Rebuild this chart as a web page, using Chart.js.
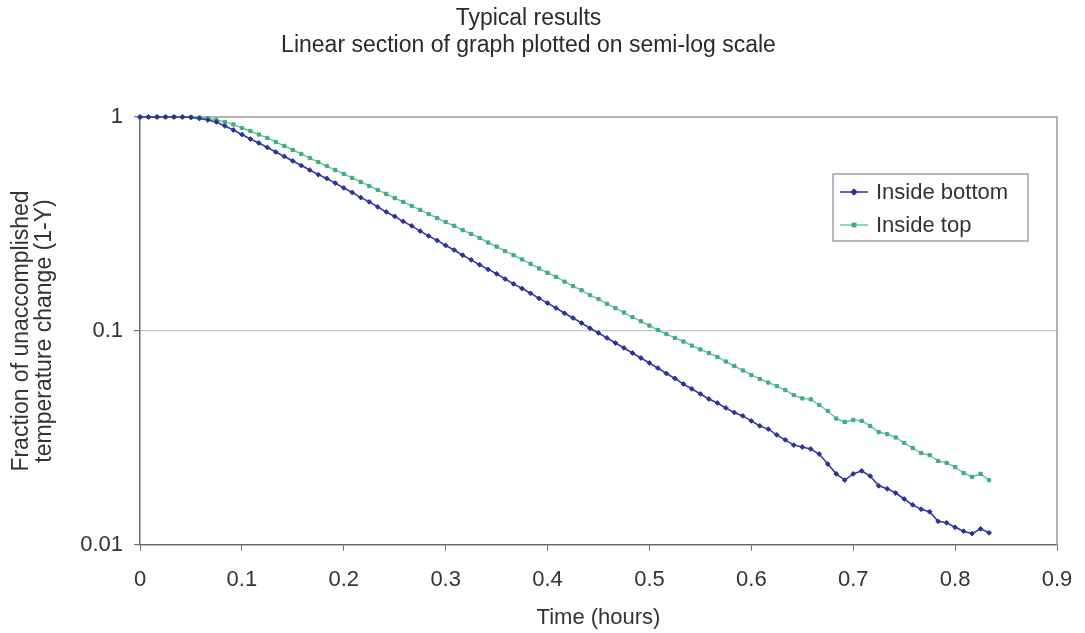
<!DOCTYPE html>
<html lang="en">
	<head>
		<meta charset="UTF-8">
		<script src="https://cdn.jsdelivr.net/npm/chart.js"></script>
		<title>Semi-log cooling curves</title>
		<style>
			html, body { margin: 0; padding: 0; background: #fff; }
			canvas { display: block; }
		</style>
	</head>
	<body>
		<canvas id="coolingChart" width="1085" height="633"></canvas>
		<script>
			// sample times, minutes (one reading every half minute)
			var timeMin = [
				0, 0.5, 1, 1.5, 2, 2.5, 3, 3.5, 4, 4.5,
				5, 5.5, 6, 6.5, 7, 7.5, 8, 8.5, 9, 9.5,
				10, 10.5, 11, 11.5, 12, 12.5, 13, 13.5, 14, 14.5,
				15, 15.5, 16, 16.5, 17, 17.5, 18, 18.5, 19, 19.5,
				20, 20.5, 21, 21.5, 22, 22.5, 23, 23.5, 24, 24.5,
				25, 25.5, 26, 26.5, 27, 27.5, 28, 28.5, 29, 29.5,
				30, 30.5, 31, 31.5, 32, 32.5, 33, 33.5, 34, 34.5,
				35, 35.5, 36, 36.5, 37, 37.5, 38, 38.5, 39, 39.5,
				40, 40.5, 41, 41.5, 42, 42.5, 43, 43.5, 44, 44.5,
				45, 45.5, 46, 46.5, 47, 47.5, 48, 48.5, 49, 49.5,
				50
			];

			// fraction of unaccomplished temperature change (1-Y)
			var insideBottom = [
				1, 1, 1, 1, 1, 1, 0.995, 0.984, 0.968, 0.948,
				0.908, 0.869, 0.828, 0.789, 0.756, 0.720, 0.686, 0.654, 0.623, 0.593,
				0.565, 0.538, 0.516, 0.491, 0.466, 0.444, 0.420, 0.401, 0.380, 0.360,
				0.343, 0.325, 0.310, 0.293, 0.278, 0.265, 0.251, 0.239, 0.226, 0.215,
				0.204, 0.194, 0.185, 0.175, 0.166, 0.158, 0.150, 0.142, 0.135, 0.128,
				0.121, 0.115, 0.109, 0.103, 0.0979, 0.0928, 0.0879, 0.0833, 0.0789, 0.0748,
				0.0709, 0.0671, 0.0633, 0.0600, 0.0565, 0.0536, 0.0508, 0.0481, 0.0461, 0.0437,
				0.0416, 0.0401, 0.0380, 0.0360, 0.0348, 0.0327, 0.0310, 0.0293, 0.0287, 0.0281,
				0.0266, 0.0239, 0.0215, 0.0201, 0.0215, 0.0222, 0.0210, 0.0189, 0.0183, 0.0175,
				0.0164, 0.0154, 0.0147, 0.0143, 0.0129, 0.0127, 0.0121, 0.0116, 0.0113, 0.0119,
				0.0114
			];
			var insideTop = [
				1, 1, 1, 1, 1, 1, 1, 0.995, 0.984, 0.968,
				0.948, 0.923, 0.888, 0.860, 0.828, 0.798, 0.764, 0.732, 0.701, 0.672,
				0.643, 0.616, 0.590, 0.565, 0.542, 0.519, 0.497, 0.476, 0.456, 0.437,
				0.418, 0.401, 0.384, 0.368, 0.352, 0.337, 0.323, 0.310, 0.296, 0.284,
				0.272, 0.259, 0.248, 0.236, 0.226, 0.216, 0.206, 0.196, 0.187, 0.179,
				0.170, 0.162, 0.155, 0.147, 0.141, 0.134, 0.128, 0.122, 0.116, 0.111,
				0.106, 0.101, 0.0968, 0.0928, 0.0893, 0.0855, 0.0820, 0.0789, 0.0756, 0.0720,
				0.0686, 0.0654, 0.0623, 0.0597, 0.0574, 0.0553, 0.0530, 0.0502, 0.0484, 0.0479,
				0.0451, 0.0423, 0.0390, 0.0376, 0.0384, 0.0380, 0.0360, 0.0337, 0.0330, 0.0318,
				0.0300, 0.0284, 0.0269, 0.0263, 0.0247, 0.0242, 0.0231, 0.0217, 0.0208, 0.0215,
				0.0201
			];

			var yTicks = [0.01, 0.1, 1];
			var xTickStep = 0.1;
			var xMax = 0.9;

			function toPoints(values) {
				return values.map(function(v, i) {
					return { x: timeMin[i] / 60, y: v };
				});
			}

			Chart.defaults.font.family = "'Liberation Sans', Arial, sans-serif";
			Chart.defaults.color = '#333';

			// right and top edges of the plot box
			var frame = {
				id: 'frame',
				beforeDatasetsDraw: function(chart) {
					var a = chart.chartArea, ctx = chart.ctx;
					ctx.save();
					ctx.strokeStyle = '#9a9a9a';
					ctx.lineWidth = 1.5;
					ctx.beginPath();
					ctx.moveTo(a.left, a.top);
					ctx.lineTo(a.right, a.top);
					ctx.lineTo(a.right, a.bottom);
					ctx.stroke();
					ctx.restore();
				}
			};

			// boxed legend inside the plot, upper right
			var boxLegend = {
				id: 'boxLegend',
				afterDraw: function(chart) {
					var ctx = chart.ctx;
					var bx = 833, by = 174, bw = 195, bh = 67;
					ctx.save();
					ctx.fillStyle = '#fff';
					ctx.fillRect(bx, by, bw, bh);
					ctx.strokeStyle = '#8c8c8c';
					ctx.lineWidth = 1.2;
					ctx.strokeRect(bx, by, bw, bh);
					chart.data.datasets.forEach(function(ds, k) {
						var y = by + 18 + k * 33;
						ctx.strokeStyle = ds.borderColor;
						ctx.lineWidth = ds.borderWidth;
						ctx.beginPath();
						ctx.moveTo(bx + 7, y);
						ctx.lineTo(bx + 35, y);
						ctx.stroke();
						Chart.helpers.drawPoint(ctx, {
							pointStyle: ds.pointStyle,
							radius: ds.pointRadius,
							borderWidth: 1,
							rotation: 0
						}, bx + 21, y);
						ctx.fillStyle = ds.pointBackgroundColor;
						ctx.strokeStyle = ds.pointBorderColor;
						ctx.fill();
						ctx.stroke();
						ctx.fillStyle = '#333';
						ctx.font = "22px 'Liberation Sans', Arial, sans-serif";
						ctx.textBaseline = 'middle';
						ctx.textAlign = 'left';
						ctx.fillText(ds.label, bx + 43, y + 1);
					});
					ctx.restore();
				}
			};

			var ctx = document.getElementById('coolingChart').getContext('2d');
			var coolingChart = new Chart(ctx, {
				type: 'line',
				data: {
					datasets: [{
						label: 'Inside bottom',
						data: toPoints(insideBottom),
						borderColor: '#363ba3',
						borderWidth: 1.6,
						pointStyle: 'rectRot',
						pointRadius: 2.4,
						pointBackgroundColor: '#2d3296',
						pointBorderColor: '#2d3296',
						pointBorderWidth: 1,
						clip: false,
						tension: 0
					}, {
						label: 'Inside top',
						data: toPoints(insideTop),
						borderColor: '#62c49c',
						borderWidth: 1.4,
						pointStyle: 'rect',
						pointRadius: 2.3,
						pointBackgroundColor: '#40ad80',
						pointBorderColor: '#40ad80',
						pointBorderWidth: 1,
						clip: false,
						tension: 0
					}]
				},
				options: {
					responsive: false,
					animation: false,
					devicePixelRatio: 1,
					layout: { padding: { left: 0, right: 28, top: 0, bottom: 0 } },
					plugins: {
						legend: { display: false },
						tooltip: { enabled: false },
						title: {
							display: true,
							text: ['Typical results', 'Linear section of graph plotted on semi-log scale'],
							color: '#2a2a2a',
							font: { size: 23, weight: 'normal', lineHeight: 1.18 },
							padding: { top: 5, bottom: 57.7 }
						}
					},
					scales: {
						x: {
							type: 'linear',
							min: 0,
							max: xMax,
							afterFit: function(scale) {
								scale.height = 88;
								scale.paddingLeft = 0;
								scale.paddingRight = 0;
							},
							ticks: {
								stepSize: xTickStep,
								padding: 16,
								color: '#333',
								font: { size: 22 },
								maxRotation: 0,
								callback: function(v) { return String(Number(v.toFixed(1))); }
							},
							grid: {
								drawOnChartArea: false,
								drawTicks: true,
								tickLength: 6,
								tickColor: '#777'
							},
							border: { color: '#6a6a6a', width: 1.5 },
							title: {
								display: true,
								text: 'Time (hours)',
								color: '#333',
								font: { size: 22, lineHeight: 1.2 },
								padding: { top: 0, bottom: 2 }
							}
						},
						y: {
							type: 'logarithmic',
							min: 0.01,
							max: 1,
							afterFit: function(scale) { scale.width = 140; },
							afterBuildTicks: function(scale) {
								scale.ticks = yTicks.map(function(v) { return { value: v }; });
							},
							ticks: {
								padding: 11,
								color: '#333',
								font: { size: 22 },
								callback: function(v) { return String(v); }
							},
							grid: {
								drawTicks: true,
								tickLength: 6,
								tickColor: '#777',
								lineWidth: 1.2,
								color: function(c) {
									if (c.tick && c.tick.value === 0.1) return '#c4c4c4';
									return 'rgba(0,0,0,0)';
								}
							},
							border: { color: '#6a6a6a', width: 1.5 },
							title: {
								display: true,
								text: ['Fraction of unaccomplished', 'temperature change (1-Y)'],
								color: '#333',
								font: { size: 23, lineHeight: 1.0 },
								padding: { top: 10.5, bottom: 0 }
							}
						}
					}
				},
				plugins: [frame, boxLegend]
			});
		</script>
	</body>
</html>
